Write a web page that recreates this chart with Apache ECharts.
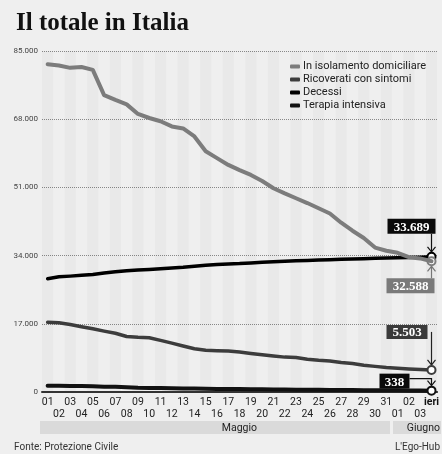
<!DOCTYPE html>
<html>
<head>
<meta charset="utf-8">
<script src="https://cdn.jsdelivr.net/npm/echarts@6/dist/echarts.min.js"></script>
<style>
  html, body { margin: 0; padding: 0; background: #efefef; }
  #chart { width: 442px; height: 454px; }
</style>
</head>
<body>
<div id="chart"></div>
<script>
// giorni: 1-31 maggio, 1-3 giugno, ieri
const giorni = ['01','02','03','04','05','06','07','08','09','10','11','12','13','14','15','16',
  '17','18','19','20','21','22','23','24','25','26','27','28','29','30','31','01','02','03','ieri']

const isolamento = [81708, 81400, 80800, 81000, 80300, 74000, 72800, 71700, 69300, 68300, 67500, 66200,
  65700, 63700, 60000, 58300, 56600, 55300, 54100, 52600, 50800, 49500, 48300, 47100, 45800, 44500,
  42200, 40200, 38400, 36000, 35200, 34700, 33600, 33300, 32588]
const ricoverati = [17357, 17242, 16823, 16270, 15769, 15174, 14636, 13834, 13618, 13539, 12865, 12172,
  11453, 10792, 10400, 10311, 10207, 9991, 9624, 9269, 8957, 8695, 8613, 8185, 7917, 7729, 7379, 7094,
  6680, 6387, 6099, 5916, 5742, 5600, 5503]
const decessi = [28236, 28710, 28884, 29079, 29315, 29684, 29958, 30201, 30395, 30560, 30739, 30911,
  31106, 31368, 31610, 31763, 31908, 32007, 32169, 32330, 32486, 32616, 32735, 32785, 32877, 32955,
  33072, 33142, 33229, 33340, 33415, 33475, 33530, 33601, 33689]
const terapia = [1578, 1539, 1501, 1479, 1427, 1333, 1311, 1168, 1034, 1027, 999, 952, 893, 855, 808,
  775, 762, 749, 716, 676, 640, 595, 572, 553, 541, 521, 505, 489, 450, 435, 424, 408, 383, 353, 338]

const nomi = ['In isolamento domiciliare', 'Ricoverati con sintomi', 'Decessi', 'Terapia intensiva']
const colori = ['#7c7c7c', '#3c3c3c', '#000000', '#111111']
const mesi = ['Maggio', 'Giugno']

const sans = 'Roboto, "Open Sans", sans-serif'
const serif = '"Liberation Serif", "DejaVu Serif", serif'
const last = giorni.length - 1

// formato italiano 85.000
const fmt = v => String(v).replace(/\B(?=(\d{3})+(?!\d))/g, '.')

const chart = echarts.init(document.getElementById('chart'))

const lineSeries = (name, data, color, width, z) => ({
  name,
  type: 'line',
  data,
  color,
  z,
  symbol: 'none',
  lineStyle: { width, color, cap: 'round', join: 'round' },
  markPoint: {
    symbol: 'circle',
    symbolSize: 8,
    silent: true,
    itemStyle: { color: '#fff', borderColor: color, borderWidth: 2 },
    label: { show: false },
    data: [{ coord: [last, data[last]] }]
  }
})

chart.setOption({
  backgroundColor: '#efefef',
  animation: false,
  title: {
    text: 'Il totale in Italia',
    left: 11,
    top: 6,
    textStyle: { fontFamily: serif, fontWeight: 'bold', fontSize: 25, color: '#111' }
  },
  legend: {
    data: nomi,
    orient: 'vertical',
    left: 285,
    top: 56,
    itemWidth: 10,
    itemHeight: 4,
    itemGap: 2,
    icon: 'roundRect',
    textStyle: { fontFamily: sans, fontSize: 11, color: '#222', padding: [0, 0, 0, -2] }
  },
  grid: { left: 42, right: 2, top: 51, bottom: 62 },
  xAxis: {
    type: 'category',
    data: giorni,
    boundaryGap: true,
    axisTick: { show: false },
    axisLine: { lineStyle: { color: '#333', width: 2 } },
    splitArea: { show: true, areaStyle: { color: ['rgba(0,0,0,0.025)', 'rgba(0,0,0,0)'] } },
    axisLabel: {
      interval: 0,
      margin: 5,
      fontFamily: sans,
      fontSize: 10.5,
      lineHeight: 11.5,
      color: '#222',
      formatter: (v, i) => {
        const t = v === 'ieri' ? '{b|ieri}' : v
        return i % 2 === 0 ? t : '\n' + t
      },
      rich: { b: { fontWeight: 'bold', fontFamily: sans, fontSize: 10.5, lineHeight: 11.5, color: '#111' } }
    }
  },
  yAxis: {
    type: 'value',
    min: 0,
    max: 85000,
    interval: 17000,
    axisLine: { show: false },
    axisTick: { show: false },
    axisLabel: { margin: 4, fontFamily: sans, fontSize: 8, color: '#444', formatter: fmt },
    splitLine: { lineStyle: { type: 'dotted', color: '#888', width: 1 } }
  },
  series: [
    lineSeries(nomi[1], ricoverati, colori[1], 3.5, 3),
    lineSeries(nomi[3], terapia, colori[3], 4, 3),
    lineSeries(nomi[2], decessi, colori[2], 3.5, 4),
    lineSeries(nomi[0], isolamento, colori[0], 4, 5)
  ]
})

// etichette finali con freccia
const px = (i, v) => chart.convertToPixel({ xAxisIndex: 0, yAxisIndex: 0 }, [i, v])

const box = (x, y, w, h, fill, text) => ({
  type: 'group',
  z: 20,
  children: [
    { type: 'rect', shape: { x, y, width: w, height: h }, style: { fill } },
    {
      type: 'text',
      x: x + w / 2,
      y: y + h / 2 + 1,
      style: { text, fill: '#fff', font: 'bold 13px ' + serif, align: 'center', verticalAlign: 'middle' }
    }
  ]
})

const arrow = (pts, dir, color) => {
  const [ex, ey] = pts[pts.length - 1]
  const d = dir === 'down' ? -5 : 5
  return {
    type: 'group',
    z: 19,
    children: [
      { type: 'polyline', shape: { points: pts }, style: { stroke: color, lineWidth: 1.2, fill: null } },
      { type: 'polyline', shape: { points: [[ex - 4, ey + d], [ex, ey], [ex + 4, ey + d]] },
        style: { stroke: color, lineWidth: 1.2, fill: null } }
    ]
  }
}

const [dx, dy] = px(last, decessi[last])
const [ix, iy] = px(last, isolamento[last])
const [rx, ry] = px(last, ricoverati[last])
const [tx, ty] = px(last, terapia[last])

chart.setOption({
  graphic: [
    box(dx - 44, dy - 38, 48, 15, '#0a0a0a', fmt(decessi[last])),
    arrow([[dx, dy - 23], [dx, dy - 5]], 'down', '#111'),
    box(ix - 45, iy + 17, 48, 15, '#7a7a7a', fmt(isolamento[last])),
    arrow([[ix, iy + 17], [ix, iy + 5]], 'up', '#777'),
    box(rx - 45, ry - 45, 41, 14, '#3a3a3a', fmt(ricoverati[last])),
    arrow([[rx, ry - 38], [rx, ry - 5]], 'down', '#222'),
    box(tx - 52, ty - 17, 30, 15, '#0a0a0a', fmt(terapia[last])),
    arrow([[tx - 22, ty - 12], [tx, ty - 12], [tx, ty - 5]], 'down', '#111'),
    // fascia dei mesi
    { type: 'rect', shape: { x: 40, y: 421, width: 350, height: 13 }, style: { fill: '#dadada' } },
    { type: 'rect', shape: { x: 393, y: 421, width: 48, height: 13 }, style: { fill: '#dadada' } },
    { type: 'text', x: 257, y: 428, style: { text: mesi[0], font: '10.5px ' + sans, fill: '#222', align: 'right', verticalAlign: 'middle' } },
    { type: 'text', x: 440, y: 428, style: { text: mesi[1], font: '10.5px ' + sans, fill: '#222', align: 'right', verticalAlign: 'middle' } },
    // fonti
    { type: 'text', x: 14, y: 447, style: { text: 'Fonte: Protezione Civile', font: '10px ' + sans, fill: '#333', verticalAlign: 'middle' } },
    { type: 'text', x: 440, y: 447, style: { text: "L'Ego-Hub", font: '10px ' + sans, fill: '#333', align: 'right', verticalAlign: 'middle' } }
  ]
})
</script>
</body>
</html>
